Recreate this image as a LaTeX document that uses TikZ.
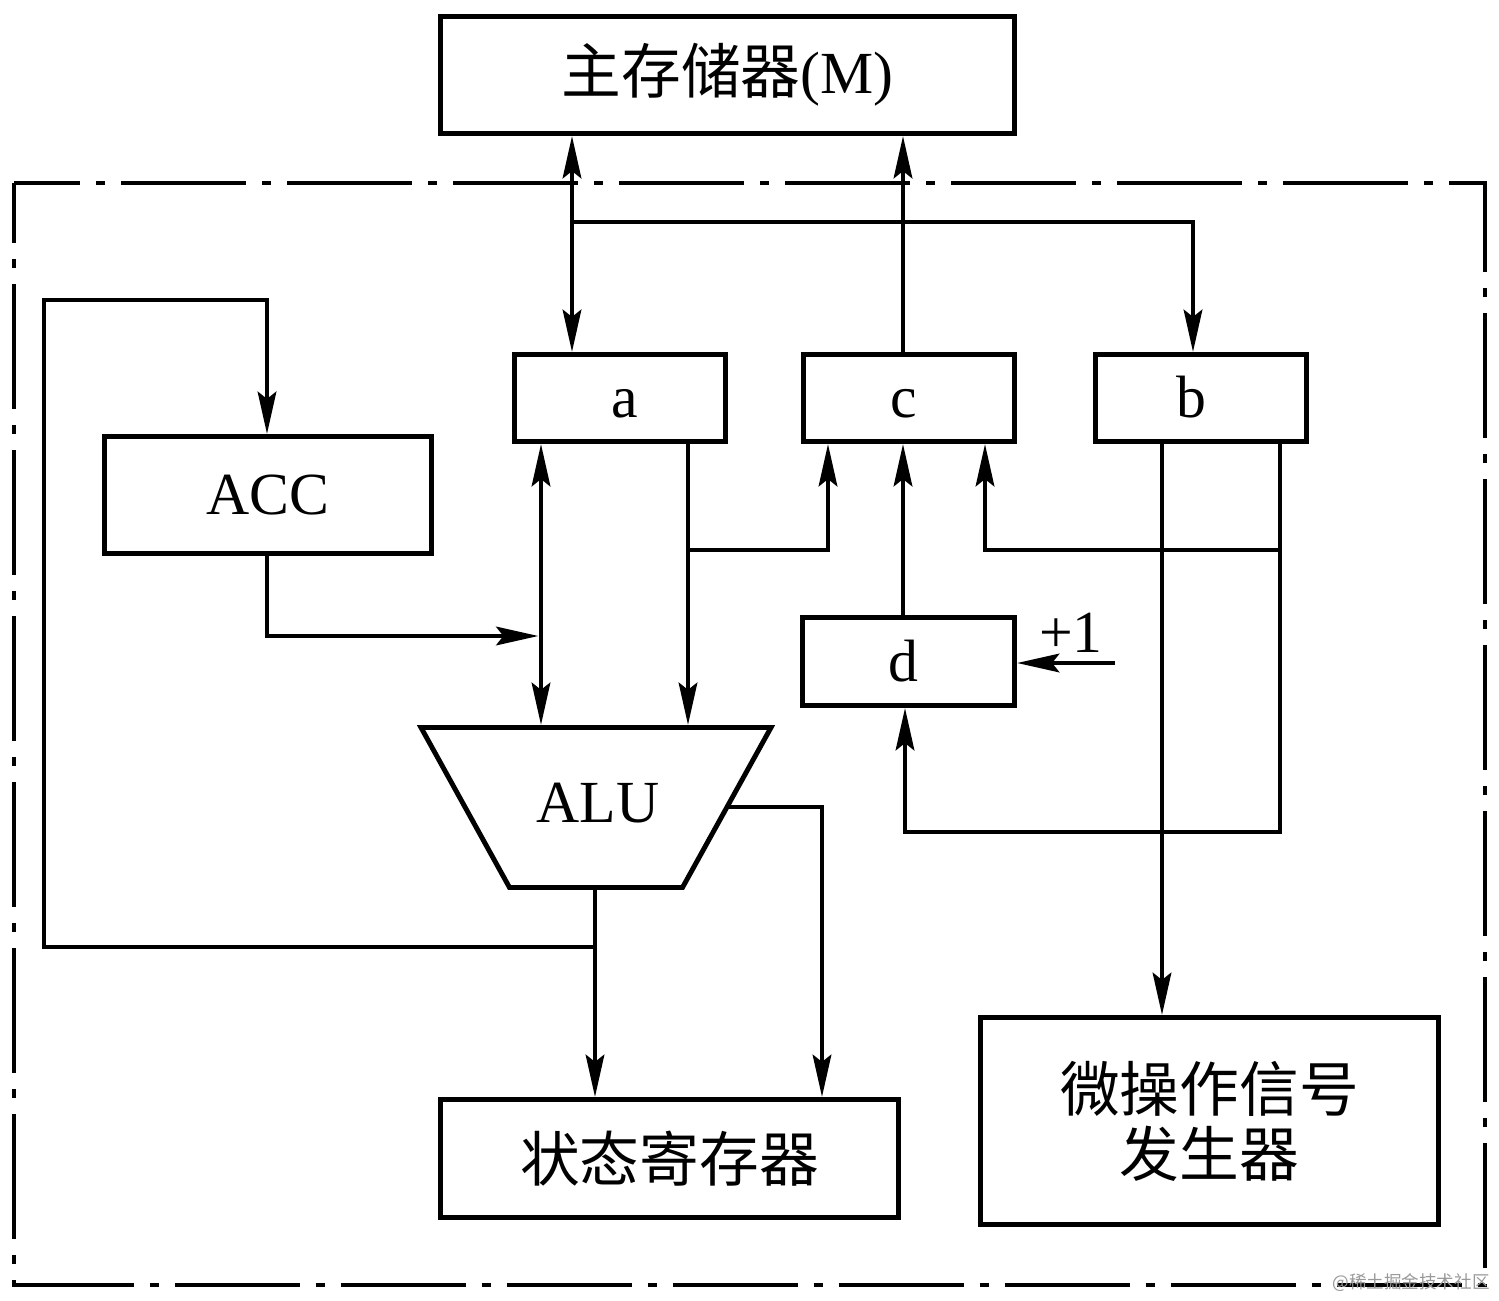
\documentclass[tikz,border=0pt]{standalone}
\usepackage{fontspec}
\setmainfont{Liberation Serif}
\newfontfamily\cjk{Noto Sans CJK SC}
\usetikzlibrary{arrows.meta}
\begin{document}
\begin{tikzpicture}[x=0.02cm,y=-0.02cm, line width=2.8pt,
  >={Stealth[length=24pt,width=10.5pt,inset=4pt]},
  box/.style={draw, rectangle, inner sep=0pt, font=\fontsize{34}{37}\selectfont},
  letter/.style={text height=24pt, text depth=1.5pt},
  dim/.style 2 args={minimum width=#1*0.02cm, minimum height=#2*0.02cm},
  frame/.style={dash pattern=on 2.5cm off 0.32cm on 0.18cm off 0.32cm, dash phase=1.3cm},
  wm/.style={font=\cjk\fontsize{10}{12}\selectfont, text=black!40, inner sep=0pt}]
\useasboundingbox (0,0) rectangle (1499,1301);

% frame
\draw[frame] (14,183) rectangle (1485,1285);

% boxes
\node[box, dim={574}{117}] (mem) at (727.5,75) {{\cjk 主存储器}(M)};
\node[box, letter, dim={211}{87}] (a) at (620,398) {\kern0.2cm a};
\node[box, letter, dim={211}{87}] (c) at (909,398) {c\kern0.2cm};
\node[box, letter, dim={211}{87}] (b) at (1201,398) {b\kern0.4cm};
\node[box, dim={327}{117}] (acc) at (268,495) {ACC};
\node[box, letter, dim={212}{88}] (d) at (908.5,661.5) {d\kern0.2cm};
\node[box, dim={458}{118}, font=\cjk\fontsize{34}{37}\selectfont] (st) at (669.5,1158.5) {状态寄存器};
\node[box, dim={458}{207}, align=center, font=\cjk\fontsize{34}{37}\selectfont] (gen) at (1209.5,1121) {微操作信号\\发生器};

% ALU trapezoid
\draw (421,727.5) -- (771,727.5) -- (682.5,887.5) -- (509.5,887.5) -- cycle;
\node[font=\fontsize{34}{37}\selectfont, inner sep=0pt] (alu) at (598,803) {ALU};
\coordinate (aluA) at (541,725);
\coordinate (aluB) at (688,725);
\coordinate (aluOut) at (595,890);
\coordinate (aluR) at (727,807);

% +1 label and input
\node[font=\fontsize{34}{37}\selectfont, inner sep=0pt] (plus) at (1071,633) {+1};
\coordinate (inc) at (1115,663);

% junctions
\coordinate (j1) at (572,222);
\coordinate (j2) at (688,550);
\coordinate (j3) at (1280,550);
\coordinate (j4) at (595,947);

% connectors
\draw[<->] (mem.south -| j1) -- (a.north -| j1);
\draw[->] (j1) -- (1193,222) -- (b.north -| 1193,0);
\draw[->] (c.north -| 903,0) -- (mem.south -| 903,0);
\draw[<->] (a.south -| aluA) -- (aluA);
\draw[->] (a.south -| aluB) -- (aluB);
\draw[->] (j2) -- (828,550) -- (c.south -| 828,0);
\draw[->] (d.north -| 903,0) -- (c.south -| 903,0);
\draw[->] (b.south -| j3) -- (1280,832) -- (905,832) -- (d.south -| 905,0);
\draw[->] (j3) -- (985,550) -- (c.south -| 985,0);
\draw[->] (b.south -| 1162,0) -- (gen.north -| 1162,0);
\draw[->] (inc) -- (d.east |- inc);
\draw[->] (acc.south -| 267,0) -- (267,636) -- (538.5,636);
\draw[->] (aluOut) -- (st.north -| aluOut);
\draw[->] (j4) -- (44,947) -- (44,300) -- (267,300) -- (acc.north -| 267,0);
\draw[->] (aluR) -- (822,807) -- (st.north -| 822,0);

% watermark
\node[wm] (wmk) at (1411,1283) {@稀土掘金技术社区};
\end{tikzpicture}
\end{document}
